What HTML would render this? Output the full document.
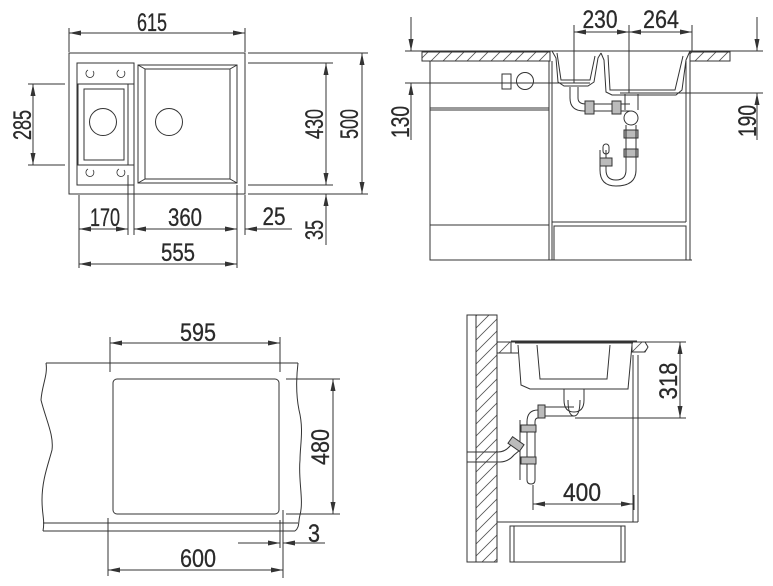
<!DOCTYPE html>
<html><head><meta charset="utf-8"><style>
html,body{margin:0;padding:0;background:#fff;width:773px;height:586px;overflow:hidden}
svg{display:block}
text{font-family:"Liberation Sans",sans-serif;font-size:25px;fill:#2a2a2a;stroke:#2a2a2a;stroke-width:0.3}
</style></head><body>
<svg width="773" height="586" viewBox="0 0 773 586" xmlns="http://www.w3.org/2000/svg">
<defs>
<marker id="a" viewBox="0 0 12 6" refX="12" refY="3" markerWidth="12" markerHeight="6" markerUnits="userSpaceOnUse" orient="auto-start-reverse"><path d="M0,0.5 L12,3 L0,5.5 Z" fill="#333"/></marker>
<pattern id="h" patternUnits="userSpaceOnUse" width="12" height="12"><path d="M-3,15 L15,-3 M-3,3 L3,-3 M9,15 L15,9" stroke="#555" stroke-width="0.8"/></pattern>
</defs>
<g fill="none" stroke="#333" stroke-width="1">

<line x1="69" y1="33" x2="245" y2="33" marker-start="url(#a)" marker-end="url(#a)"/>
<line x1="69" y1="28" x2="69" y2="52"/><line x1="245" y1="28" x2="245" y2="52"/>
<rect x="69" y="53" width="176" height="141"/>
<rect x="77" y="63" width="57" height="122"/>
<rect x="78" y="84" width="50" height="81"/>
<rect x="84" y="89" width="40" height="71"/>
<line x1="77" y1="84" x2="134" y2="84"/><line x1="77" y1="165" x2="134" y2="165"/>
<circle cx="103" cy="122" r="13.5"/>
<circle cx="169" cy="122" r="13.5"/>
<rect x="138" y="65" width="99" height="118"/>
<rect x="145" y="69" width="85" height="110"/>
<line x1="138" y1="65" x2="145" y2="69"/><line x1="237" y1="65" x2="230" y2="69"/>
<line x1="138" y1="183" x2="145" y2="179"/><line x1="237" y1="183" x2="230" y2="179"/>
<g stroke-width="0.8">
<path d="M88,70 a4,4 0 1,0 5,1"/><path d="M119,70 a4,4 0 1,0 5,1"/>
<path d="M88,169 a4,4 0 1,0 5,1"/><path d="M119,169 a4,4 0 1,0 5,1"/>
</g>
<line x1="33" y1="84" x2="33" y2="165" marker-start="url(#a)" marker-end="url(#a)"/>
<line x1="28" y1="84" x2="65" y2="84"/><line x1="28" y1="165" x2="65" y2="165"/>
<line x1="248" y1="63" x2="333" y2="63"/><line x1="248" y1="185" x2="333" y2="185"/>
<line x1="248" y1="53" x2="368" y2="53"/><line x1="248" y1="194" x2="368" y2="194"/>
<line x1="326" y1="63" x2="326" y2="185" marker-start="url(#a)" marker-end="url(#a)"/>
<line x1="362" y1="53" x2="362" y2="194" marker-start="url(#a)" marker-end="url(#a)"/>
<line x1="326" y1="245" x2="326" y2="194" marker-end="url(#a)"/>
<line x1="79" y1="195" x2="79" y2="268"/><line x1="128" y1="175" x2="128" y2="235"/>
<line x1="134" y1="185" x2="134" y2="235"/><line x1="237" y1="185" x2="237" y2="268"/>
<line x1="245" y1="195" x2="245" y2="235"/>
<line x1="79" y1="229" x2="128" y2="229" marker-start="url(#a)" marker-end="url(#a)"/>
<line x1="134" y1="229" x2="237" y2="229" marker-start="url(#a)" marker-end="url(#a)"/>
<line x1="292" y1="229" x2="245" y2="229" marker-end="url(#a)"/>
<line x1="79" y1="264" x2="237" y2="264" marker-start="url(#a)" marker-end="url(#a)"/>

<line x1="405" y1="51" x2="763" y2="51"/>
<rect x="422" y="52" width="128" height="9" fill="url(#h)"/>
<rect x="690" y="52" width="40" height="9" fill="url(#h)"/>
<line x1="411" y1="17" x2="411" y2="51" marker-end="url(#a)"/>
<line x1="411" y1="140" x2="411" y2="83" marker-end="url(#a)"/>
<line x1="405" y1="83" x2="590" y2="83"/>
<rect x="430" y="61" width="119" height="199"/>
<line x1="430" y1="108" x2="549" y2="108"/><line x1="430" y1="110" x2="549" y2="110"/>
<line x1="430" y1="225" x2="549" y2="225"/>
<line x1="552" y1="61" x2="552" y2="260"/>
<line x1="690" y1="61" x2="690" y2="260"/>
<line x1="686" y1="61" x2="686" y2="222"/>
<line x1="552" y1="222" x2="686" y2="222"/>
<rect x="554" y="226" width="132" height="34"/>
<line x1="430" y1="260" x2="692" y2="260"/>
<rect x="502" y="74" width="9" height="15"/>
<circle cx="525" cy="81" r="8.5"/>
<path d="M552,51 L556,58 L558,82 L564,86 L588,86 L594,82 L598,58 L601,53"/>
<path d="M557,53 L561,80 L590,80 L595,56"/>
<path d="M601,53 L604,60 L606,92 L612,95 L676,95 L682,90 L686,60 L690,51"/>
<path d="M608,55 L610,90 L675,90 L683,56"/>
<path d="M570,87 L570,98 Q570,111 584,111 L630,111 M578,87 L578,98 Q578,104 586,104 L630,104"/>
<rect x="585" y="101" width="9" height="13" fill="#bbb"/><rect x="612" y="101" width="9" height="13" fill="#bbb"/>
<path d="M625,94 L625,110 M638,94 L638,110"/>
<circle cx="631" cy="118" r="7"/>
<rect x="624" y="130" width="14" height="8" fill="#bbb"/>
<rect x="624" y="149" width="14" height="8" fill="#bbb"/>
<path d="M626,125 L626,170 Q626,180 616,180 Q606,180 606,170 L606,150 M636,125 L636,170 Q636,186 616,186 Q600,186 600,170 L600,150"/>
<rect x="600" y="158" width="12" height="8" fill="#bbb"/>
<rect x="603" y="144" width="6" height="10" rx="3"/>
<line x1="574" y1="25" x2="574" y2="83"/><line x1="629" y1="25" x2="629" y2="93"/><line x1="692" y1="25" x2="692" y2="52"/>
<line x1="574" y1="32" x2="629" y2="32" marker-start="url(#a)" marker-end="url(#a)"/>
<line x1="629" y1="32" x2="692" y2="32" marker-start="url(#a)" marker-end="url(#a)"/>
<line x1="757" y1="17" x2="757" y2="51" marker-end="url(#a)"/>
<line x1="757" y1="140" x2="757" y2="93" marker-end="url(#a)"/>
<line x1="620" y1="93" x2="763" y2="93"/>

<line x1="110" y1="337" x2="110" y2="372"/><line x1="280" y1="337" x2="280" y2="372"/>
<line x1="110" y1="343" x2="280" y2="343" marker-start="url(#a)" marker-end="url(#a)"/>
<line x1="46" y1="363" x2="298" y2="363"/>
<line x1="43" y1="523" x2="298" y2="523"/>
<line x1="43" y1="531" x2="295" y2="531"/>
<path d="M46,363 C48,375 42,385 41,400 C46,420 54,435 52,450 C48,465 42,480 42,500 C42,515 45,520 43,531"/>
<path d="M298,363 C296,380 296,395 299,410 C304,430 300,445 300,460 C298,480 304,500 300,515 C298,522 300,527 295,531"/>
<rect x="113" y="379" width="166" height="135" rx="4"/>
<line x1="286" y1="379" x2="340" y2="379"/><line x1="286" y1="514" x2="340" y2="514"/>
<line x1="333" y1="379" x2="333" y2="514" marker-start="url(#a)" marker-end="url(#a)"/>
<line x1="108" y1="518" x2="108" y2="576"/><line x1="283" y1="510" x2="283" y2="578"/><line x1="280" y1="520" x2="280" y2="548"/>
<line x1="108" y1="570" x2="283" y2="570" marker-start="url(#a)" marker-end="url(#a)"/>
<line x1="238" y1="543" x2="280" y2="543" marker-end="url(#a)"/>
<line x1="325" y1="543" x2="283" y2="543" marker-end="url(#a)"/>

<rect x="467" y="315" width="30" height="247"/>
<rect x="476" y="315" width="21" height="247" fill="url(#h)"/>
<line x1="497" y1="342" x2="648" y2="342"/>
<path d="M497,342 L511,342 L511,353 L497,353" fill="url(#h)"/>
<path d="M632,342 L645,342 L648,347 L645,352 L632,352 Z" fill="url(#h)"/>
<line x1="497" y1="353" x2="518" y2="353"/>
<path d="M511,341 L637,341 M515,343 L633,343"/>
<path d="M518,345 L521,385 L530,389 L628,389 L632,345"/>
<path d="M537,345 L540,379 L607,379 L610,345"/>
<line x1="638" y1="355" x2="638" y2="522"/><line x1="633" y1="355" x2="633" y2="522"/>
<line x1="497" y1="522" x2="638" y2="522"/>
<rect x="510" y="526" width="115" height="36"/>
<line x1="514" y1="526" x2="514" y2="562"/><line x1="621" y1="526" x2="621" y2="562"/>
<path d="M564,389 L564,400 Q564,412 574,412 Q584,412 584,400 L584,389"/>
<path d="M568,400 Q568,416 574,416 M580,400 Q580,416 574,416"/>
<path d="M545,407 L574,407 M545,416 L574,416"/>
<rect x="538" y="405" width="7" height="13" fill="#bbb"/>
<path d="M538,410 Q527,410 527,422 L527,480 Q527,484 531,484 Q535,484 535,480 L535,422 Q535,418 538,418"/>
<path d="M520,420 L520,480"/>
<rect x="521" y="425" width="15" height="7" fill="#bbb"/>
<rect x="521" y="457" width="15" height="7" fill="#bbb"/>
<path d="M467,452 L498,452 Q505,452 510,446 L518,440 M467,462 L500,462 Q508,462 514,455 L520,450"/>
<rect x="509" y="440" width="14" height="8" fill="#bbb" transform="rotate(35 516 444)"/>
<line x1="648" y1="342" x2="686" y2="342"/><line x1="575" y1="418" x2="686" y2="418"/>
<line x1="680" y1="342" x2="680" y2="418" marker-start="url(#a)" marker-end="url(#a)"/>
<line x1="533" y1="485" x2="533" y2="510"/><line x1="634" y1="495" x2="634" y2="510"/>
<line x1="533" y1="504" x2="633" y2="504" marker-start="url(#a)" marker-end="url(#a)"/>
</g>

<text x="152" y="31" text-anchor="middle" textLength="30" lengthAdjust="spacingAndGlyphs">615</text>
<text transform="translate(31,125) rotate(-90)" text-anchor="middle" textLength="30" lengthAdjust="spacingAndGlyphs">285</text>
<text transform="translate(323,124) rotate(-90)" text-anchor="middle" textLength="30" lengthAdjust="spacingAndGlyphs">430</text>
<text transform="translate(358,124) rotate(-90)" text-anchor="middle" textLength="30" lengthAdjust="spacingAndGlyphs">500</text>
<text transform="translate(323,230) rotate(-90)" text-anchor="middle" textLength="20" lengthAdjust="spacingAndGlyphs">35</text>
<text x="105" y="226" text-anchor="middle" textLength="30" lengthAdjust="spacingAndGlyphs">170</text>
<text x="185" y="226" text-anchor="middle" textLength="34" lengthAdjust="spacingAndGlyphs">360</text>
<text x="274" y="225" text-anchor="middle" textLength="23" lengthAdjust="spacingAndGlyphs">25</text>
<text x="178" y="261" text-anchor="middle" textLength="34" lengthAdjust="spacingAndGlyphs">555</text>
<text x="600" y="28" text-anchor="middle" textLength="35" lengthAdjust="spacingAndGlyphs">230</text>
<text x="661" y="28" text-anchor="middle" textLength="36" lengthAdjust="spacingAndGlyphs">264</text>
<text transform="translate(409,122) rotate(-90)" text-anchor="middle" textLength="32" lengthAdjust="spacingAndGlyphs">130</text>
<text transform="translate(756,121) rotate(-90)" text-anchor="middle" textLength="32" lengthAdjust="spacingAndGlyphs">190</text>
<text x="198" y="341" text-anchor="middle" textLength="36" lengthAdjust="spacingAndGlyphs">595</text>
<text transform="translate(329,447) rotate(-90)" text-anchor="middle" textLength="36" lengthAdjust="spacingAndGlyphs">480</text>
<text x="198" y="567" text-anchor="middle" textLength="36" lengthAdjust="spacingAndGlyphs">600</text>
<text x="314" y="542" text-anchor="middle" textLength="12" lengthAdjust="spacingAndGlyphs">3</text>
<text transform="translate(677,381) rotate(-90)" text-anchor="middle" textLength="37" lengthAdjust="spacingAndGlyphs">318</text>
<text x="582" y="501" text-anchor="middle" textLength="38" lengthAdjust="spacingAndGlyphs">400</text>
</svg>
</body></html>
